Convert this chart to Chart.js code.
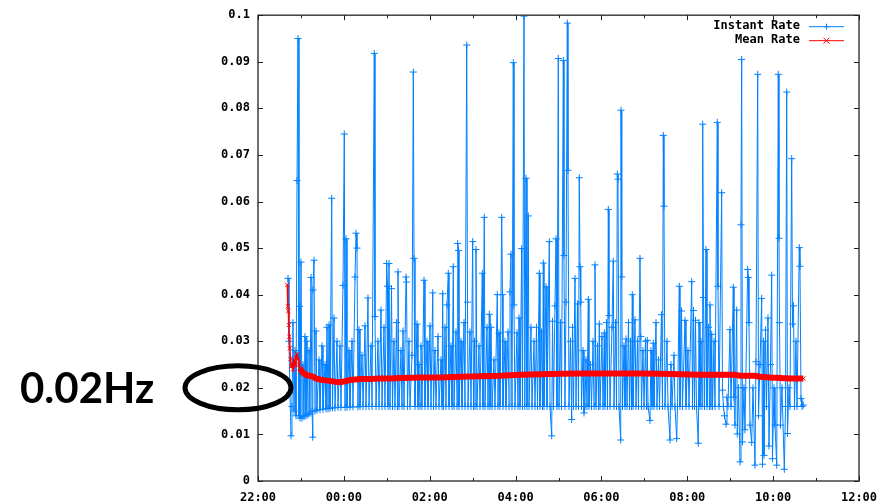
<!DOCTYPE html>
<html>
<head>
<meta charset="utf-8">
<script src="https://cdn.jsdelivr.net/npm/chart.js@4.4.0/dist/chart.umd.min.js"></script>
<style>
  body { margin: 0; background: #fff; }
  canvas { display: block; }
</style>
</head>
<body>
<canvas id="grafico" width="888" height="504"></canvas>
<script>
// horas decorridas desde as 22:00
var xTickLabels = ['22:00', '00:00', '02:00', '04:00', '06:00', '08:00', '10:00', '12:00'];
var yTickLabels = ['0', '0.01', '0.02', '0.03', '0.04', '0.05', '0.06', '0.07', '0.08', '0.09', '0.1'];

var instantHours = [
  0.699, 0.722, 0.745, 0.769, 0.792, 0.815, 0.839, 0.862, 0.885, 0.909,
  0.932, 0.955, 0.967, 0.978, 1.002, 1.025, 1.048, 1.072, 1.095, 1.118,
  1.141, 1.165, 1.188, 1.211, 1.235, 1.258, 1.274, 1.281, 1.305, 1.328,
  1.351, 1.374, 1.421, 1.444, 1.491, 1.514, 1.561, 1.584, 1.607, 1.631,
  1.654, 1.677, 1.717, 1.735, 1.770, 1.794, 1.840, 1.864, 1.910, 1.933,
  1.980, 2.010, 2.027, 2.050, 2.073, 2.120, 2.143, 2.190, 2.213, 2.260,
  2.283, 2.306, 2.329, 2.353, 2.376, 2.423, 2.446, 2.493, 2.516, 2.562,
  2.586, 2.632, 2.656, 2.709, 2.725, 2.749, 2.795, 2.819, 2.865, 2.889,
  2.935, 2.958, 2.998, 3.017, 3.028, 3.052, 3.075, 3.110, 3.133, 3.168,
  3.191, 3.226, 3.250, 3.261, 3.285, 3.331, 3.354, 3.378, 3.401, 3.448,
  3.459, 3.483, 3.517, 3.541, 3.587, 3.618, 3.634, 3.657, 3.704, 3.727,
  3.750, 3.774,
  3.797, 3.820, 3.867, 3.890, 3.937, 3.960, 4.007, 4.030, 4.070, 4.088,
  4.123, 4.146, 4.193, 4.216, 4.263, 4.286, 4.302, 4.321, 4.356, 4.379,
  4.403, 4.433, 4.449, 4.496, 4.519, 4.549, 4.566, 4.612, 4.636, 4.652,
  4.670, 4.682, 4.729, 4.752, 4.799, 4.822, 4.862, 4.880, 4.892, 4.938,
  4.962, 5.001, 5.020, 5.043, 5.055, 5.078, 5.101, 5.148, 5.171, 5.225,
  5.241, 5.271, 5.288, 5.334, 5.358, 5.388, 5.404, 5.428, 5.451, 5.497,
  5.521, 5.574, 5.591, 5.614, 5.637, 5.677, 5.695, 5.707, 5.754, 5.777,
  5.824, 5.847, 5.870, 5.893, 5.917, 5.947, 5.963, 5.987, 6.033, 6.056,
  6.080, 6.103, 6.143, 6.161, 6.196, 6.215, 6.243, 6.266, 6.296, 6.313,
  6.359, 6.383, 6.429, 6.452, 6.487, 6.511, 6.553, 6.569, 6.604, 6.627,
  6.646, 6.662, 6.709, 6.732, 6.786, 6.802, 6.841, 6.860, 6.883, 6.918,
  6.942, 6.965, 6.995, 7.012,
  7.046, 7.070, 7.112, 7.128, 7.151, 7.175, 7.205, 7.221, 7.244, 7.279,
  7.307, 7.326, 7.349, 7.384, 7.408, 7.442, 7.466, 7.484, 7.501, 7.519,
  7.536, 7.571, 7.594, 7.617, 7.640, 7.664, 7.694, 7.710, 7.745, 7.769,
  7.804, 7.827, 7.850, 7.873, 7.908, 7.932, 7.950, 7.967, 8.013, 8.036,
  8.067, 8.083, 8.118, 8.141, 8.160, 8.176, 8.200, 8.246, 8.276, 8.293,
  8.328, 8.351, 8.370, 8.386, 8.409, 8.449, 8.456, 8.474, 8.491, 8.526,
  8.549, 8.572, 8.596, 8.630, 8.654, 8.677, 8.700, 8.719, 8.735, 8.782,
  8.805, 8.840, 8.863, 8.898, 8.917, 8.933, 8.968, 8.992, 9.026, 9.050,
  9.068, 9.085, 9.131, 9.155, 9.178, 9.208, 9.224, 9.271, 9.294, 9.329,
  9.353, 9.399, 9.422, 9.441, 9.457, 9.481, 9.527, 9.551, 9.597, 9.620,
  9.644, 9.690, 9.714, 9.753, 9.772, 9.814, 9.830, 9.865, 9.888, 9.947,
  9.970, 10.016, 10.040, 10.103, 10.121, 10.145, 10.168, 10.191, 10.214, 10.256,
  10.273, 10.296,
  10.319, 10.343, 10.359, 10.378, 10.401, 10.436, 10.459, 10.494, 10.517, 10.529,
  10.552, 10.569, 10.587, 10.622, 10.645, 10.699, 10.715, 10.739, 10.801, 10.820,
  10.843, 10.867, 10.902, 10.925, 10.948, 10.995, 11.018, 11.072, 11.088, 11.111,
  11.151, 11.165, 11.193, 11.228, 11.251, 11.267, 11.286, 11.321, 11.344, 11.407,
  11.421, 11.437, 11.461, 11.500, 11.531, 11.577, 11.600, 11.640, 11.659, 11.694,
  11.733, 11.752, 11.775, 11.787, 11.822, 11.845, 11.880, 11.903, 11.938, 11.966,
  11.985, 12.020, 12.043, 12.083, 12.120, 12.136, 12.148, 12.171, 12.206, 12.260,
  12.288, 12.316, 12.334, 12.369, 12.392, 12.432, 12.451, 12.474, 12.497, 12.532,
  12.556, 12.609, 12.625, 12.649, 12.672, 12.702
];

var instantRate = [
  .0435, .0300, .0190, .0097, .0160, .0340, .0150, .0280, .0140, .0645,
  .0950, .0140, .0375, .0135, .0470, .0135, .0250, .0138, .0310, .0140,
  .0300, .0142, .0280, .0145, .0437, .0150, .0094, .0410, .0474, .0150,
  .0322, .0152, .0260, .0153, .0290, .0154, .0250, .0155, .0330, .0155,
  .0335, .0156, .0607, .0157, .0350, .0157, .0300, .0158, .0290, .0158,
  .0420, .0745, .0158, .0520, .0158, .0280, .0159, .0300, .0159, .0438,
  .0532, .0500, .0159, .0325, .0160, .0270, .0160, .0333, .0160, .0393,
  .0160, .0290, .0160, .0918, .0353, .0160, .0300, .0160, .0367, .0160,
  .0330, .0160, .0467, .0418, .0160, .0467, .0160, .0413, .0160, .0300,
  .0160, .0340, .0160, .0449, .0160, .0280, .0160, .0322, .0160, .0438,
  .0427, .0160, .0300, .0160, .0270, .0878, .0478, .0160, .0337, .0160,
  .0250, .0160,
  .0290, .0160, .0431, .0160, .0300, .0160, .0333, .0160, .0404, .0160,
  .0280, .0160, .0310, .0160, .0260, .0160, .0402, .0160, .0330, .0160,
  .0378, .0446, .0160, .0290, .0160, .0460, .0160, .0320, .0160, .0510,
  .0495, .0160, .0300, .0160, .0340, .0160, .0936, .0384, .0160, .0320,
  .0160, .0514, .0160, .0300, .0160, .0497, .0160, .0290, .0160, .0446,
  .0160, .0566, .0160, .0330, .0160, .0358, .0160, .0330, .0160, .0260,
  .0160, .0400, .0160, .0318, .0160, .0566, .0400, .0160, .0300, .0160,
  .0320, .0160, .0406, .0487, .0160, .0898, .0378, .0160, .0318, .0160,
  .0350, .0160, .0499, .0160, .0998, .0160, .0650, .0160, .0569, .0160,
  .0330, .0160, .0300, .0160, .0330, .0160, .0446, .0160, .0320, .0160,
  .0468, .0160, .0417, .0160, .0514, .0160, .0097, .0343, .0160, .0376,
  .0520, .0160, .0907, .0160,
  .0340, .0160, .0903, .0484, .0160, .0384, .0983, .0667, .0160, .0300,
  .0132, .0330, .0160, .0435, .0160, .0380, .0160, .0651, .0460, .0384,
  .0160, .0280, .0146, .0160, .0260, .0160, .0390, .0160, .0250, .0160,
  .0300, .0160, .0464, .0160, .0290, .0160, .0337, .0160, .0310, .0160,
  .0318, .0160, .0340, .0160, .0583, .0355, .0160, .0330, .0472, .0160,
  .0340, .0160, .0659, .0648, .0160, .0088, .0796, .0438, .0160, .0290,
  .0160, .0305, .0160, .0340, .0160, .0300, .0160, .0400, .0160, .0346,
  .0160, .0300, .0160, .0478, .0310, .0160, .0280, .0160, .0300, .0160,
  .0302, .0160, .0130, .0280, .0160, .0296, .0160, .0340, .0160, .0260,
  .0160, .0357, .0160, .0742, .0590, .0160, .0300, .0160, .0088, .0250,
  .0160, .0270, .0160, .0091, .0160, .0418, .0160, .0365, .0160, .0345,
  .0160, .0280, .0160, .0428, .0160, .0366, .0160, .0345, .0160, .0081,
  .0340, .0160,
  .0300, .0160, .0766, .0394, .0160, .0497, .0160, .0330, .0160, .0378,
  .0160, .0315, .0160, .0300, .0160, .0770, .0418, .0160, .0619, .0195,
  .0160, .0140, .0122, .0180, .0160, .0325, .0160, .0416, .0180, .0120,
  .0367, .0101, .0200, .0041, .0550, .0905, .0084, .0200, .0110, .0454,
  .0437, .0340, .0120, .0083, .0200, .0034, .0256, .0873, .0140, .0250,
  .0392, .0036, .0300, .0055, .0324, .0160, .0350, .0075, .0250, .0442,
  .0048, .0200, .0120, .0034, .0873, .0521, .0340, .0120, .0200, .0025,
  .0160, .0835, .0102, .0200, .0160, .0692, .0337, .0376, .0160, .0300,
  .0160, .0501, .0461, .0177, .0160, .0163
];

var meanHours = [
  0.683, 0.694, 0.706, 0.717, 0.729, 0.741, 0.757, 0.773, 0.792, 0.815,
  0.839, 0.862, 0.885, 0.909, 0.932, 0.955, 0.978, 1.025, 1.072, 1.118,
  1.165, 1.211, 1.281, 1.351, 1.444, 1.561, 1.677, 1.794, 1.910, 2.027,
  2.143, 2.260, 2.376, 2.609, 2.842, 3.075, 3.308, 3.774, 4.240, 4.705,
  5.171, 5.637, 6.103, 6.569, 7.035, 7.501, 7.967, 8.432, 8.898, 9.364,
  9.830, 10.296, 10.762, 11.111, 11.228, 11.577, 11.694, 11.927, 12.160, 12.392,
  12.702
];

var meanRate = [
  .0421, .0375, .0365, .0335, .0310, .0285, .0262, .0245, .0252, .0240,
  .0258, .0248, .0265, .0272, .0262, .0250, .0242, .0235, .0230, .0228,
  .0226, .0226, .0224, .0220, .0218, .0216, .0215, .0213, .0212, .0214,
  .0217, .0218, .0219, .0219, .0220, .0220, .0221, .0222, .0222, .0224,
  .0225, .0226, .0228, .0229, .0230, .0231, .0231, .0231, .0231, .0230,
  .0229, .0228, .0228, .0228, .0226, .0226, .0224, .0222, .0221, .0220,
  .0220
];

var azul = 'rgb(0,128,255)';
var vermelho = 'rgb(255,0,0)';
var fonteEixo = { family: 'DejaVu Sans Mono', size: 12, weight: 'bold' };

function pares(horas, valores) {
  return horas.map(function(h, i) { return { x: h, y: valores[i] }; });
}

function marcador(ctx, tipo, x, y, r) {
  ctx.beginPath();
  if (tipo === 'cross') {
    ctx.moveTo(x - r, y); ctx.lineTo(x + r, y);
    ctx.moveTo(x, y - r); ctx.lineTo(x, y + r);
  } else {
    ctx.moveTo(x - r, y - r); ctx.lineTo(x + r, y + r);
    ctx.moveTo(x - r, y + r); ctx.lineTo(x + r, y - r);
  }
  ctx.stroke();
}

// moldura com ticks para dentro, legenda e a marcação de 0.02Hz
var molduraPlugin = {
  id: 'moldura',
  afterDatasetsDraw: function(chart) {
    var ctx = chart.ctx;
    var a = chart.chartArea;
    var x = chart.scales.x;
    var y = chart.scales.y;

    ctx.save();
    ctx.strokeStyle = '#404040';
    ctx.lineWidth = 1.5;
    ctx.strokeRect(a.left, a.top, a.right - a.left, a.bottom - a.top);

    ctx.lineWidth = 1;
    ctx.strokeStyle = '#202020';
    ctx.beginPath();
    x.ticks.forEach(function(t) {
      var px = Math.round(x.getPixelForValue(t.value)) + 0.5;
      ctx.moveTo(px, a.bottom); ctx.lineTo(px, a.bottom - 5);
      ctx.moveTo(px, a.top); ctx.lineTo(px, a.top + 5);
      var pm = Math.round(x.getPixelForValue(t.value + 1)) + 0.5;
      if (t.value + 1 < x.max) {
        ctx.moveTo(pm, a.bottom); ctx.lineTo(pm, a.bottom - 3);
        ctx.moveTo(pm, a.top); ctx.lineTo(pm, a.top + 3);
      }
    });
    y.ticks.forEach(function(t) {
      var py = Math.round(y.getPixelForValue(t.value)) + 0.5;
      ctx.moveTo(a.left, py); ctx.lineTo(a.left + 5, py);
      ctx.moveTo(a.right, py); ctx.lineTo(a.right - 5, py);
    });
    ctx.stroke();

    // legenda
    ctx.font = 'bold 12px "DejaVu Sans Mono"';
    ctx.fillStyle = '#000';
    ctx.textAlign = 'right';
    ctx.textBaseline = 'middle';
    chart.data.datasets.forEach(function(ds, i) {
      var ly = a.top + 11 + i * 14;
      ctx.fillText(ds.label, a.right - 59, ly);
      ctx.strokeStyle = ds.borderColor;
      ctx.lineWidth = 1;
      ctx.beginPath();
      ctx.moveTo(a.right - 50, ly + 0.5); ctx.lineTo(a.right - 15, ly + 0.5);
      ctx.stroke();
      marcador(ctx, ds.pointStyle, a.right - 32.5, ly + 0.5, 3);
    });

    // destaque do nível de 0.02
    var cy = y.getPixelForValue(0.02);
    ctx.strokeStyle = '#000';
    ctx.lineWidth = 5;
    ctx.beginPath();
    ctx.ellipse(a.left - 20, cy, 53, 22, 0, 0, Math.PI * 2);
    ctx.stroke();

    ctx.font = 'bold 42px Lato';
    ctx.textAlign = 'left';
    ctx.textBaseline = 'alphabetic';
    ctx.fillText('0.02Hz', 20, cy + 15);
    ctx.restore();
  }
};

var canvas = document.getElementById('grafico');
var chart = new Chart(canvas.getContext('2d'), {
  type: 'line',
  data: {
    datasets: [
      {
        label: 'Instant Rate',
        data: pares(instantHours, instantRate),
        borderColor: azul,
        borderWidth: 1,
        pointStyle: 'cross',
        pointRadius: 3.5,
        pointBorderWidth: 1,
        pointBorderColor: azul,
        tension: 0,
        order: 1
      },
      {
        label: 'Mean Rate',
        data: pares(meanHours, meanRate),
        borderColor: vermelho,
        borderWidth: 6,
        pointStyle: 'crossRot',
        pointRadius: 3,
        pointBorderWidth: 1,
        pointBorderColor: vermelho,
        tension: 0,
        order: 0,
        segment: {
          borderWidth: function(c) { return c.p0.parsed.x < 0.97 ? 1.5 : 6; }
        }
      }
    ]
  },
  options: {
    responsive: false,
    animation: false,
    devicePixelRatio: 1,
    events: [],
    layout: { padding: { top: 15, right: 29, left: 0, bottom: 0 } },
    plugins: {
      legend: { display: false },
      tooltip: { enabled: false }
    },
    scales: {
      x: {
        type: 'linear',
        min: 0,
        max: 14,
        grid: { display: false, drawTicks: false },
        border: { display: false },
        ticks: {
          stepSize: 2,
          autoSkip: false,
          maxRotation: 0,
          padding: 10,
          color: '#000',
          font: fonteEixo,
          callback: function(v) { return xTickLabels[Math.round(v / 2)]; }
        },
        afterFit: function(s) { s.height = 23; }
      },
      y: {
        min: 0,
        max: 0.1,
        grid: { display: false, drawTicks: false },
        border: { display: false },
        ticks: {
          stepSize: 0.01,
          autoSkip: false,
          padding: 8,
          color: '#000',
          font: fonteEixo,
          callback: function(v) { return yTickLabels[Math.round(v * 100)]; }
        },
        afterFit: function(s) { s.width = 258; }
      }
    }
  },
  plugins: [molduraPlugin]
});
</script>
</body>
</html>
